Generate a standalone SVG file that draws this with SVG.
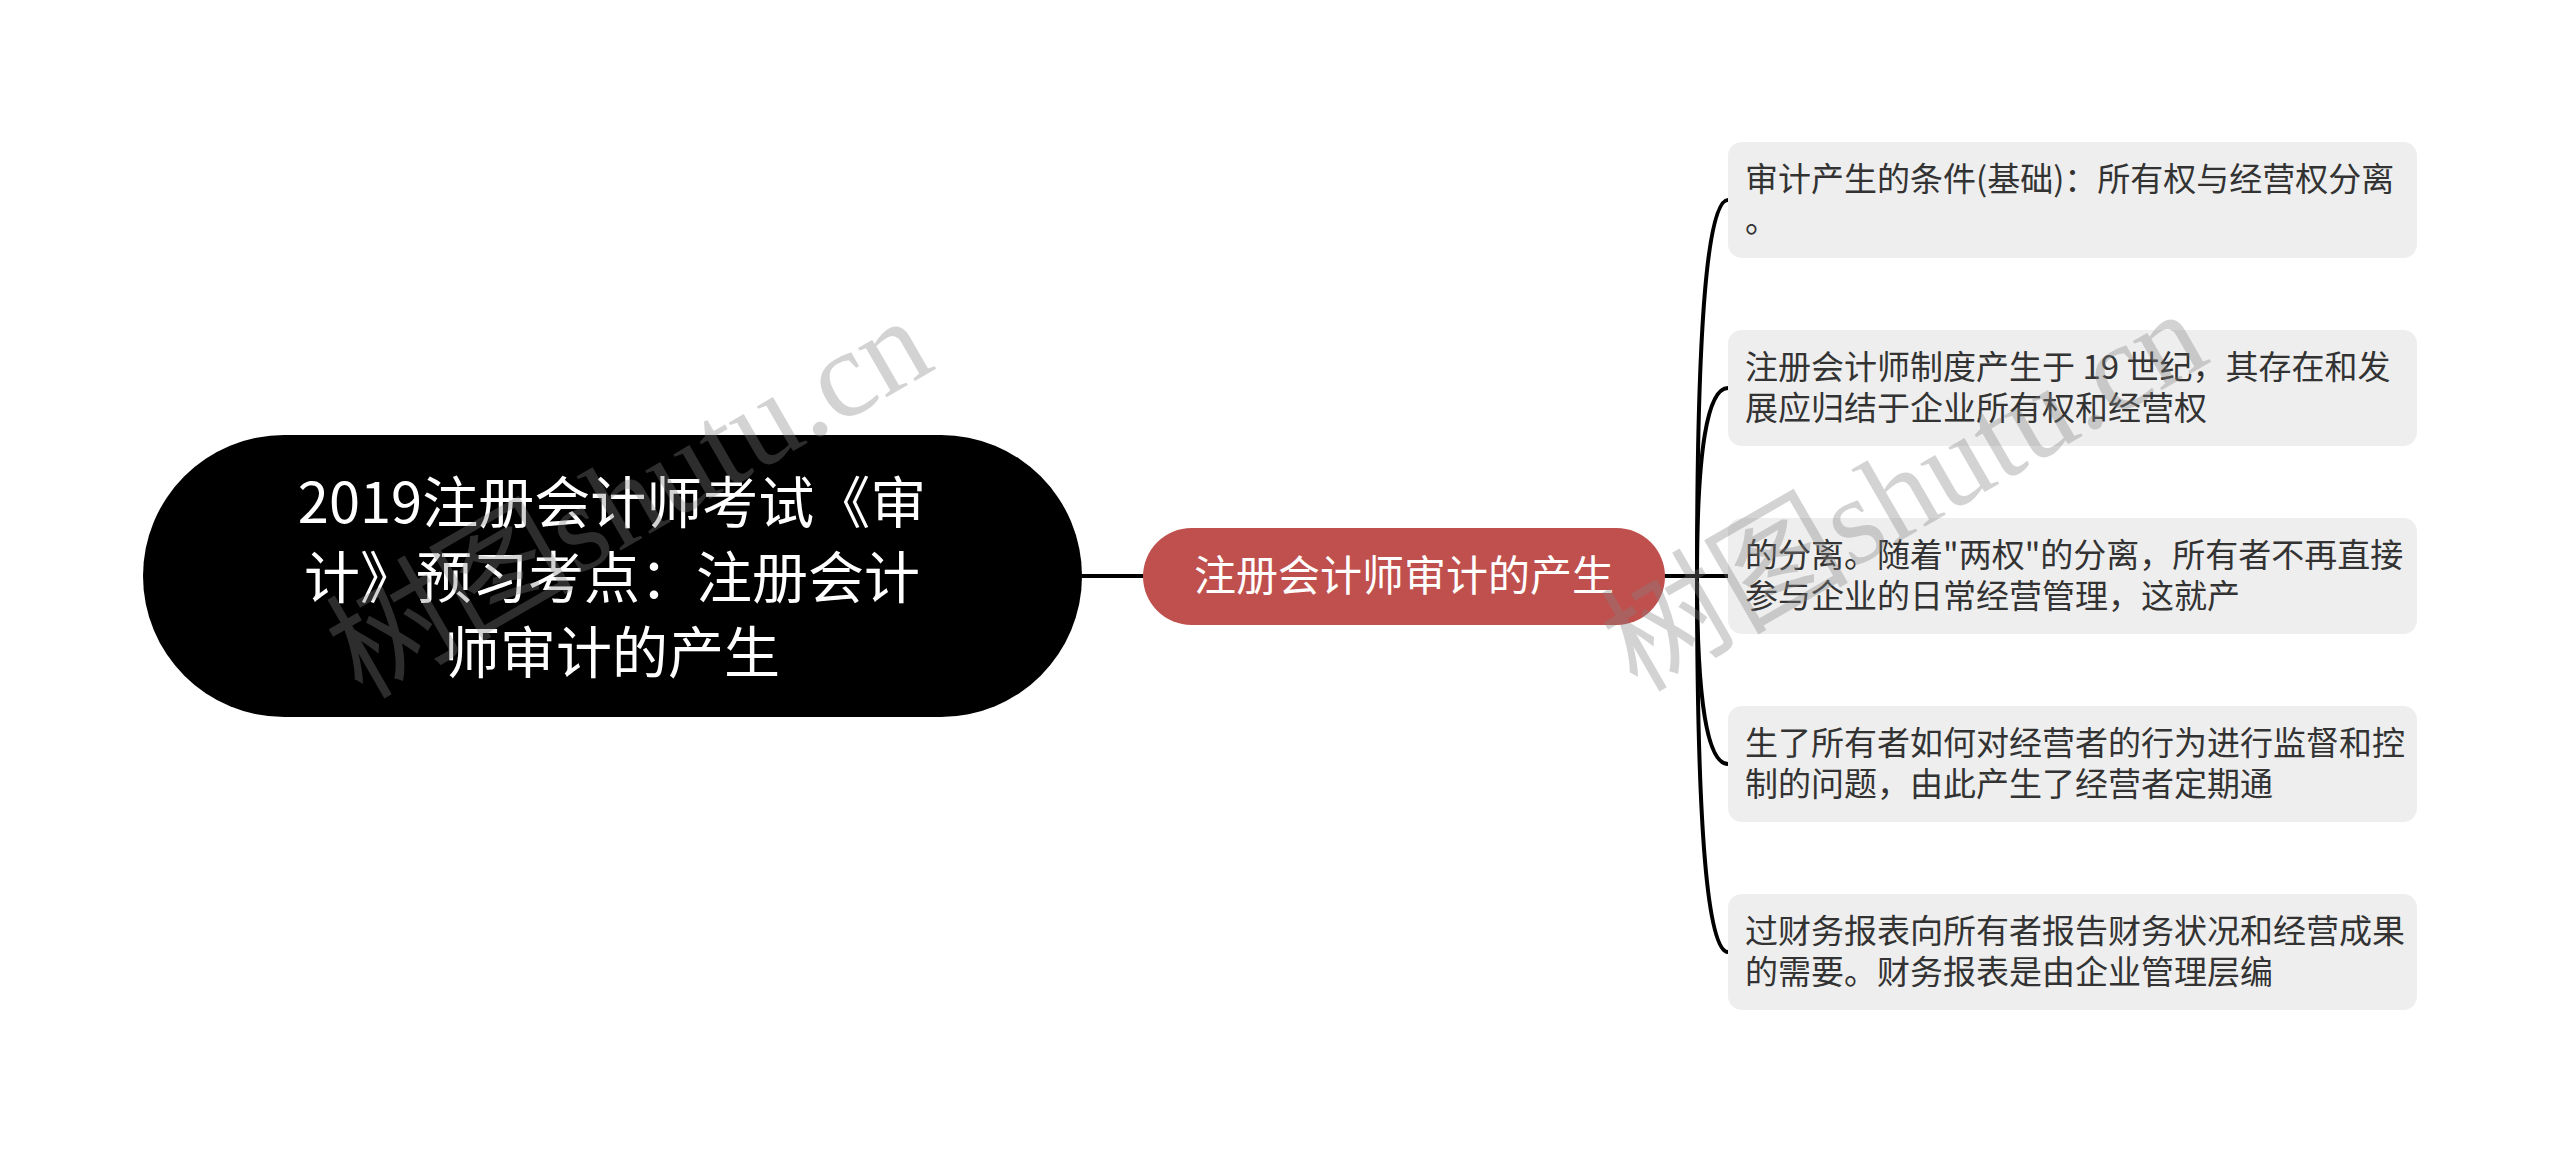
<svg xmlns="http://www.w3.org/2000/svg" width="2560" height="1153" viewBox="0 0 2560 1153">
  <style>
    .conn { fill: none; stroke: #000; stroke-width: 4; stroke-linecap: round; }
    .root-shape { fill: #000; }
    .root-text { fill: #fff; font-family: "Noto Sans CJK SC", "Liberation Sans", sans-serif; font-size: 56px; text-anchor: middle; }
    .mid-shape { fill: #c0504d; }
    .mid-text { fill: #fff; font-family: "Noto Sans CJK SC", "Liberation Sans", sans-serif; font-size: 42px; text-anchor: middle; }
    .leaf-shape { fill: #eeeeee; }
    .leaf-text { fill: #333; font-family: "Noto Sans CJK SC", "Liberation Sans", sans-serif; font-size: 33px; }
    .wm { fill: #808080; fill-opacity: 0.35; font-family: "Liberation Serif", "Noto Sans CJK SC", serif; font-size: 124px; }
  </style>
  <rect width="2560" height="1153" fill="#fff"/>

  <g id="connectors">
    <path class="conn" d="M1082 576 L1143 576"/>
    <path class="conn" d="M1665 576 L1728 576"/>
    <path class="conn" d="M1697 576 Q1697 200 1728 200"/>
    <path class="conn" d="M1697 576 Q1697 388 1728 388"/>
    <path class="conn" d="M1697 576 Q1697 764 1728 764"/>
    <path class="conn" d="M1697 576 Q1697 952 1728 952"/>
  </g>

  <g id="root">
    <rect class="root-shape" x="143" y="435" width="939" height="282" rx="141" ry="141"/>
    <text class="root-text" x="612" y="523">2019注册会计师考试《审</text>
    <text class="root-text" x="612" y="598">计》预习考点：注册会计</text>
    <text class="root-text" x="612" y="673">师审计的产生</text>
  </g>

  <g id="main-topic">
    <rect class="mid-shape" x="1143" y="528" width="522" height="97" rx="48.5" ry="48.5"/>
    <text class="mid-text" x="1404" y="591">注册会计师审计的产生</text>
  </g>

  <g id="leaf1">
    <rect class="leaf-shape" x="1728" y="142" width="689" height="116" rx="14" ry="14"/>
    <text class="leaf-text" x="1745" y="191">审计产生的条件(基础)：所有权与经营权分离</text>
    <text class="leaf-text" x="1745" y="232">。</text>
  </g>

  <g id="leaf2">
    <rect class="leaf-shape" x="1728" y="330" width="689" height="116" rx="14" ry="14"/>
    <text class="leaf-text" x="1745" y="379">注册会计师制度产生于 19 世纪，其存在和发</text>
    <text class="leaf-text" x="1745" y="420">展应归结于企业所有权和经营权</text>
  </g>

  <g id="leaf3">
    <rect class="leaf-shape" x="1728" y="518" width="689" height="116" rx="14" ry="14"/>
    <text class="leaf-text" x="1745" y="567">的分离。随着"两权"的分离，所有者不再直接</text>
    <text class="leaf-text" x="1745" y="608">参与企业的日常经营管理，这就产</text>
  </g>

  <g id="leaf4">
    <rect class="leaf-shape" x="1728" y="706" width="689" height="116" rx="14" ry="14"/>
    <text class="leaf-text" x="1745" y="755">生了所有者如何对经营者的行为进行监督和控</text>
    <text class="leaf-text" x="1745" y="796">制的问题，由此产生了经营者定期通</text>
  </g>

  <g id="leaf5">
    <rect class="leaf-shape" x="1728" y="894" width="689" height="116" rx="14" ry="14"/>
    <text class="leaf-text" x="1745" y="943">过财务报表向所有者报告财务状况和经营成果</text>
    <text class="leaf-text" x="1745" y="984">的需要。财务报表是由企业管理层编</text>
  </g>

  <g id="watermarks">
    <text class="wm" x="362" y="700" transform="rotate(-30 362 700)">树图shutu.cn</text>
    <text class="wm" x="1637" y="693" transform="rotate(-30 1637 693)">树图shutu.cn</text>
  </g>
</svg>
